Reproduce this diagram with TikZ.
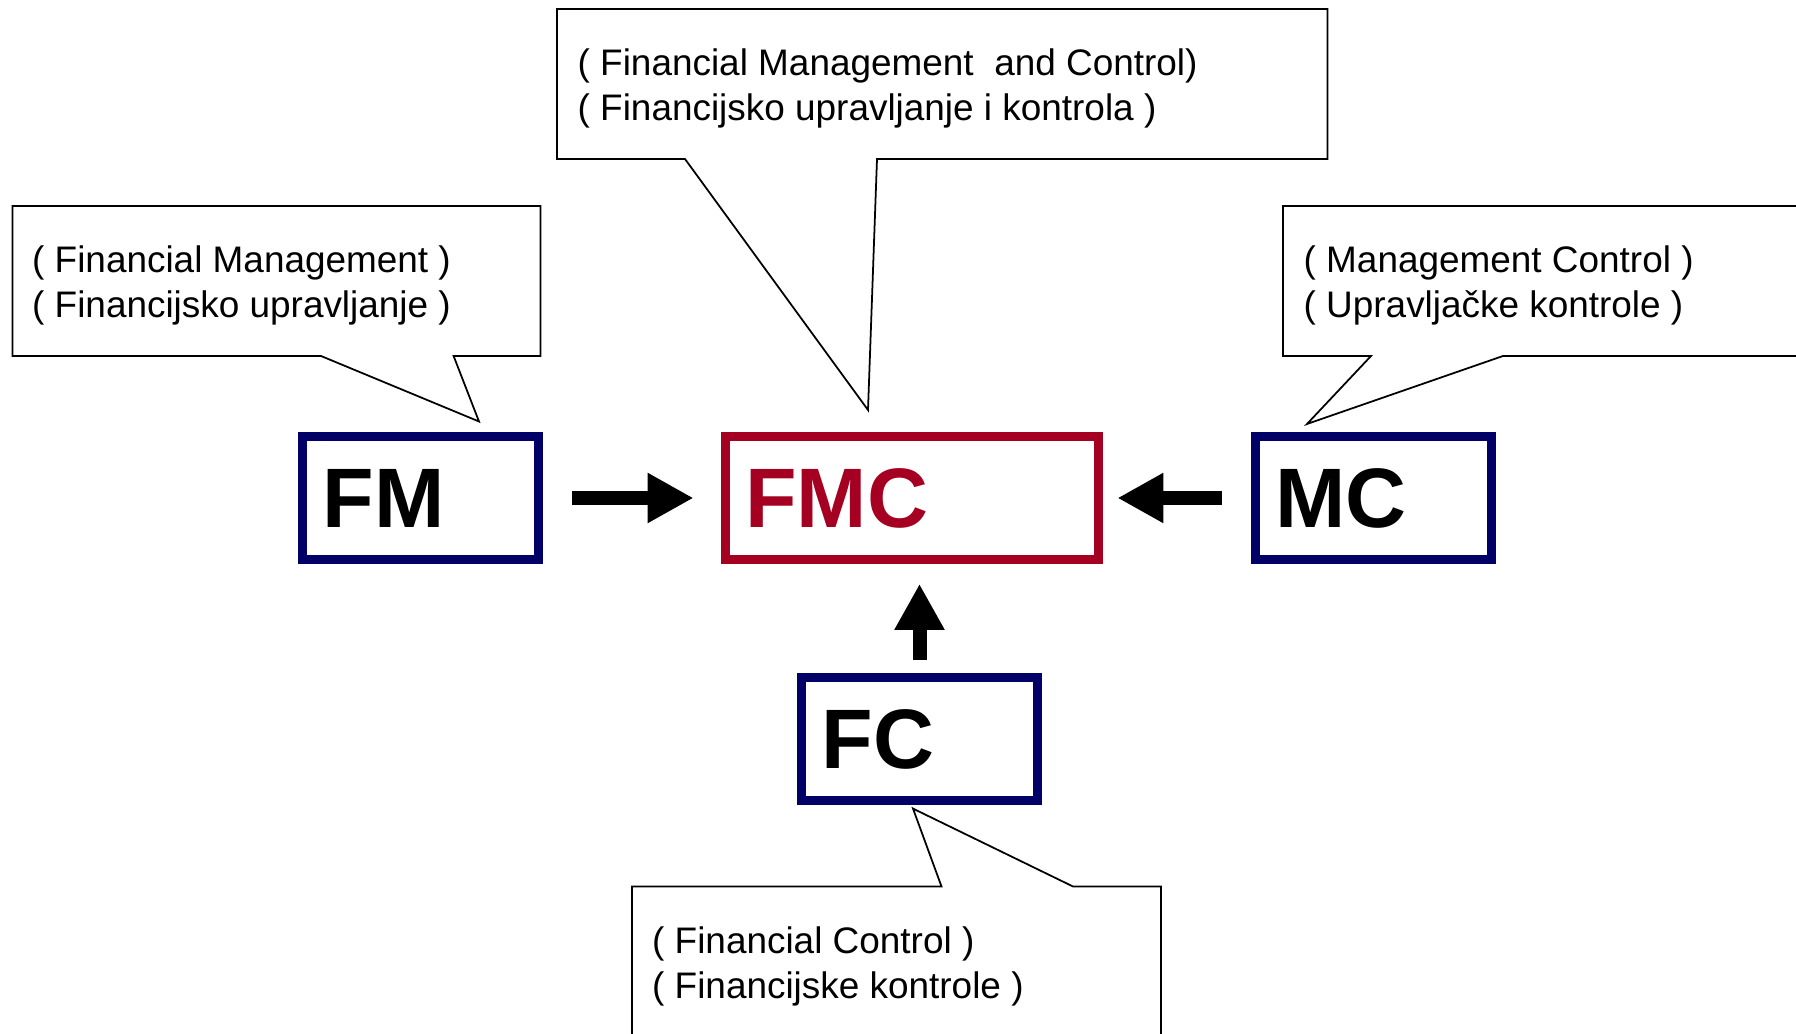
\documentclass[tikz,border=0pt]{standalone}
\usepackage{fontspec}
\setmainfont{Liberation Sans}
\usetikzlibrary{arrows.meta}
\definecolor{boxblue}{RGB}{0,0,102}
\definecolor{boxred}{RGB}{165,0,33}

\begin{document}
\begin{tikzpicture}[x=0.01cm,y=-0.01cm,
	box/.style={draw=boxblue,line width=2.6pt,minimum width=2.36cm,minimum height=1.225cm,inner xsep=0.2cm,text width=1.96cm,align=left,font=\bfseries\fontsize{24}{24}\selectfont},
	note/.style={anchor=base west,inner sep=0pt,align=left,font=\fontsize{10.5}{12.8}\selectfont},
	bubble/.style={draw,line width=0.5pt,fill=white},
	bigarrow/.style={-{Triangle[length=0.46cm,width=0.47cm]},line width=0.14cm}]
			\useasboundingbox (0,0) rectangle (1796,1034);
			\clip (0,0) rectangle (1796,1034);
			
			\node[box] (fm) at (420.5,498) {FM};
			\node[box,draw=boxred,text=boxred,minimum width=3.735cm,text width=3.335cm] (fmc) at (912,498) {FMC};
			\node[box] (mc) at (1373.5,498) {MC};
			\node[box] (fc) at (919.5,739) {FC};
			
			\draw[bigarrow,shorten <=0.29cm,shorten >=0.27cm] (fm) -- (fmc);
			\draw[bigarrow,shorten <=0.29cm,shorten >=0.14cm] (mc) -- (fmc);
			\draw[bigarrow,shorten <=0.13cm,shorten >=0.2cm] (fc.north) -- (fc.north |- fmc.south);
			
			\coordinate (tipfmc) at (868,410);
			\coordinate (tipfm) at (479,421.5);
			\coordinate (tipmc) at (1307,424);
			\coordinate (tipfc) at (913,808.6);
			
			\draw[bubble] (557,9) -- (1327.5,9) -- (1327.5,159) -- (877,159) -- (tipfmc) -- (685,159) -- (557,159) -- cycle;
			\draw[bubble] (12.6,206) -- (540.6,206) -- (540.6,356) -- (453.6,356) -- (tipfm) -- (321,356) -- (12.6,356) -- cycle;
			\draw[bubble] (1283,206) -- (1810,206) -- (1810,356) -- (1503,356) -- (tipmc) -- (1371,356) -- (1283,356) -- cycle;
			\draw[bubble] (632,886.5) -- (941.5,886.5) -- (tipfc) -- (1073,886.5) -- (1161,886.5) -- (1161,1050) -- (632,1050) -- cycle;
			
			\node[note] (fmcnote) at (577,121) {( Financial Management\ \ and Control)\\( Financijsko upravljanje i kontrola )};
			\node[note] (fmnote) at (31.5,318) {( Financial Management )\\( Financijsko upravljanje )};
			\node[note] (mcnote) at (1303,318) {( Management Control )\\( Upravljačke kontrole )};
			\node[note] (fcnote) at (651.5,998.5) {( Financial Control )\\( Financijske kontrole )};
		\end{tikzpicture}
\end{document}
